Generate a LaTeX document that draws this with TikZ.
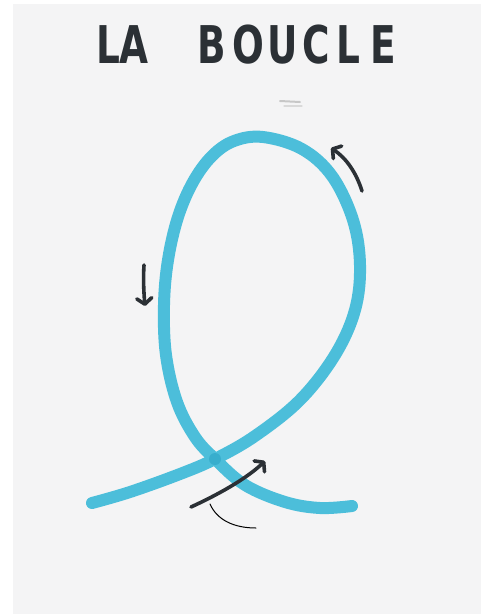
\documentclass[tikz,border=0pt]{standalone}
\usepackage{fontspec}
\usepackage{graphicx}
\newfontfamily\handfont{DejaVu Sans}[BoldFont={DejaVu Sans Bold}]
\usetikzlibrary{arrows.meta}
\definecolor{paper}{HTML}{F4F4F5}
\definecolor{ribbon}{HTML}{4CBEDA}
\definecolor{ribbondark}{HTML}{38AECD}
\definecolor{ink}{HTML}{2B3035}
\definecolor{thin}{HTML}{7A6454}
\tikzset{
  ribbonline/.style={line width=12pt, line cap=round, line join=round, draw=ribbon},
  inkarrow/.style={draw=ink, line width=3.6pt, line cap=round,
    -{Straight Barb[round, length=6pt, width=15pt]}},
  letter/.style={font=\handfont\bfseries\fontsize{52}{52}\selectfont, text=ink, inner sep=0pt, anchor=base},
}
\newcommand\hletter[1]{\scalebox{0.72}[1]{#1}}
\begin{document}
\begin{tikzpicture}[x=1pt,y=-1pt]
\useasboundingbox (0,0) rectangle (481,614);
\fill[white] (0,0) rectangle (481,614);
\fill[paper] (13,4) rectangle (481,614);
% title
\node[letter] (t1) at (108,63) {\hletter{L}};
\node[letter] (t2) at (134,63) {\hletter{A}};
\node[letter] (t3) at (212,63) {\hletter{B}};
\node[letter] (t4) at (248,63) {\hletter{O}};
\node[letter] (t5) at (283,63) {\hletter{U}};
\node[letter] (t6) at (316,63) {\hletter{C}};
\node[letter] (t7) at (348,63) {\hletter{L}};
\node[letter] (t8) at (383,63) {\hletter{E}};
% smudge
\draw[line width=2pt, line cap=round, draw=black!22] (280,101) -- (300,102);
\draw[line width=1.2pt, line cap=round, draw=black!15] (284,106) -- (302,106);
% ribbon
\def\ribbonpath{plot[smooth, tension=0.6] coordinates {(92,503) (130,492) (180,474) (215,459) (255,436) (300,400) (335,355) (355,310) (360,265) (353,220) (332,176) (302,149) (263,137) (234,141) (212,156) (193,182) (178,217) (168,260) (164,305) (166,355) (177,402) (195,437) (215,459) (245,485) (285,502) (320,508) (352,506)}}
\draw[ribbonline] \ribbonpath;
\begin{scope}
  \clip (215,459) circle (6);
  \draw[ribbonline, draw=ribbondark] \ribbonpath;
\end{scope}
% arrows
\coordinate (a1s) at (362,191);
\coordinate (a1e) at (331,148);
\draw[inkarrow] (a1s) .. controls (356,172) and (346,158) .. (a1e);
\coordinate (a2s) at (144,265);
\coordinate (a2e) at (145,306);
\draw[inkarrow] (a2s) .. controls (143,280) and (144,295) .. (a2e);
\coordinate (a3s) at (191,507);
\coordinate (a3e) at (265,461);
\draw[inkarrow] (a3s) .. controls (215,496) and (245,480) .. (a3e);
% thin stroke
\coordinate (c1) at (210,504);
\coordinate (c2) at (256,528);
\draw[thin, line width=1pt, line cap=round] (c1) .. controls (217,520) and (234,528) .. (c2);
\end{tikzpicture}
\end{document}
